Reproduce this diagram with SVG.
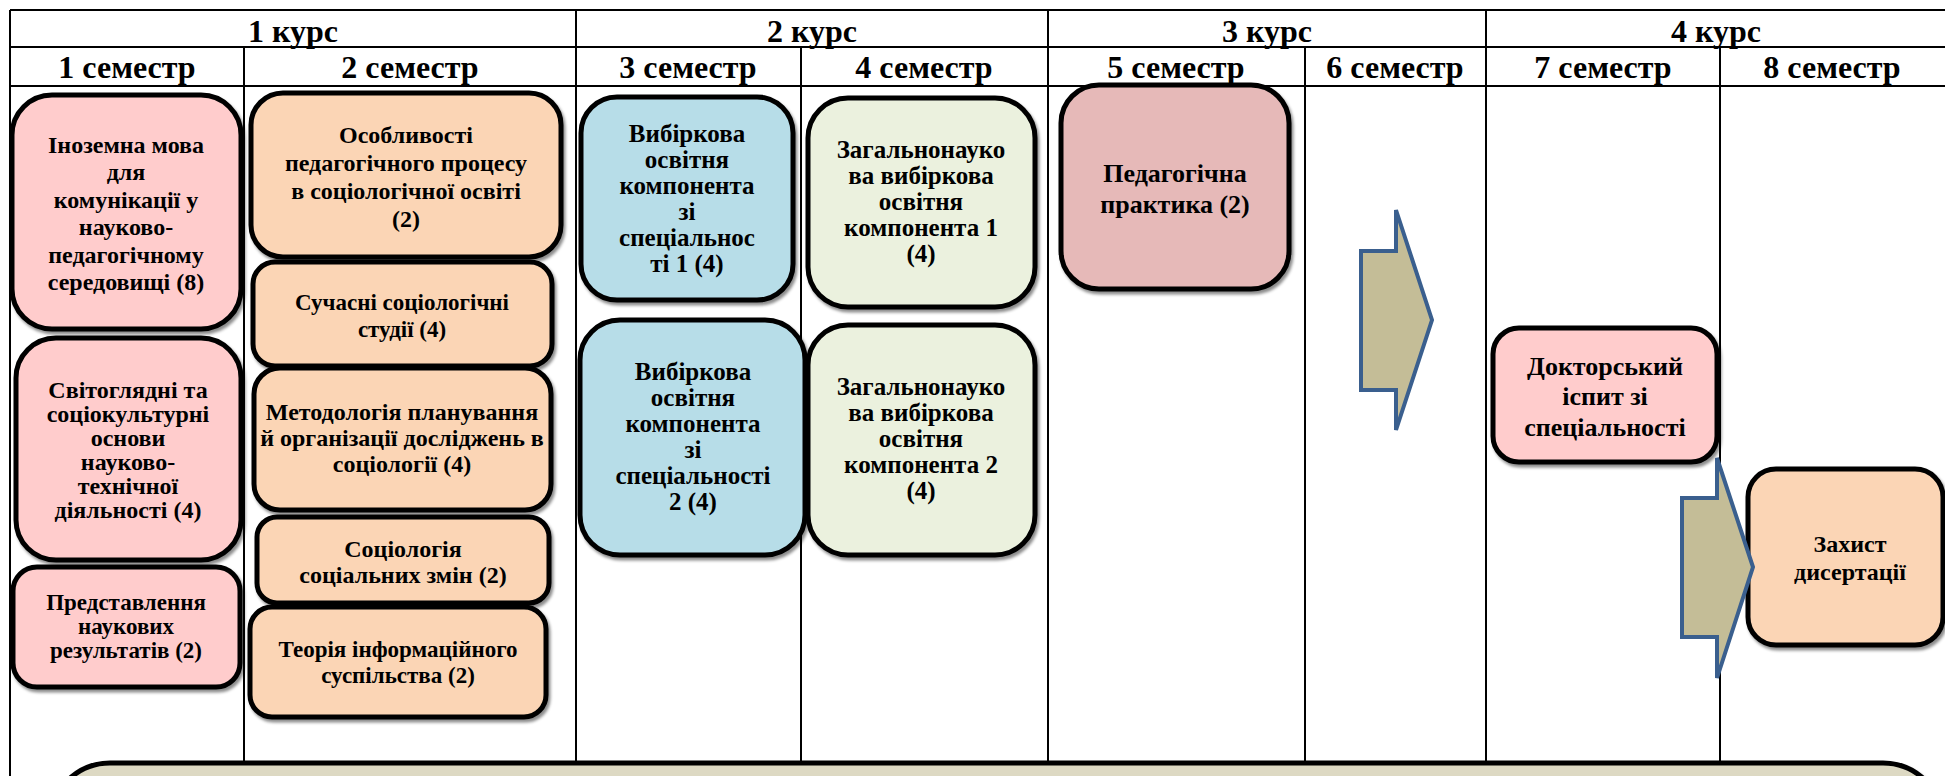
<svg xmlns="http://www.w3.org/2000/svg" width="1945" height="776" viewBox="0 0 1945 776">
<style>
.grid{stroke:#000;stroke-width:2;fill:none}
.hd{font-family:"Liberation Serif","Times New Roman",serif;font-weight:bold;font-size:32px;fill:#000;text-anchor:middle}
.nd{stroke:#000;stroke-width:5}
.t{font-family:"Liberation Serif","Times New Roman",serif;font-weight:bold;font-size:24px;fill:#000;text-anchor:middle}
.s23{font-size:23px}
.s25{font-size:25px}
.s26{font-size:26px}
.pink{fill:#FFCCCC}
.orange{fill:#FBD5B5}
.blue{fill:#B7DDE8}
.green{fill:#EBF1DE}
.rose{fill:#E6B9B8}
.arrow{fill:#C4BD97;stroke:#3A5F8E;stroke-width:4}
</style>
<defs>
<filter id="sh" x="-10%" y="-10%" width="130%" height="130%">
<feDropShadow dx="2" dy="3" stdDeviation="1.5" flood-color="#000" flood-opacity="0.45"/>
</filter>
</defs>
<rect width="1945" height="776" fill="#fff"/>
<g id="table">
<line class="grid" x1="10" y1="10" x2="1945" y2="10"/>
<line class="grid" x1="10" y1="47" x2="1945" y2="47"/>
<line class="grid" x1="10" y1="86" x2="1945" y2="86"/>
<line class="grid" x1="10" y1="10" x2="10" y2="776"/>
<line class="grid" x1="576" y1="10" x2="576" y2="762"/>
<line class="grid" x1="1048" y1="10" x2="1048" y2="762"/>
<line class="grid" x1="1486" y1="10" x2="1486" y2="762"/>
<line class="grid" x1="244" y1="47" x2="244" y2="762"/>
<line class="grid" x1="801" y1="47" x2="801" y2="762"/>
<line class="grid" x1="1305" y1="47" x2="1305" y2="762"/>
<line class="grid" x1="1720" y1="47" x2="1720" y2="762"/>
<text class="hd" x="293" y="42">1 курс</text>
<text class="hd" x="812" y="42">2 курс</text>
<text class="hd" x="1267" y="42">3 курс</text>
<text class="hd" x="1716" y="42">4 курс</text>
<text class="hd" x="127" y="78">1 семестр</text>
<text class="hd" x="410" y="78">2 семестр</text>
<text class="hd" x="688" y="78">3 семестр</text>
<text class="hd" x="924" y="78">4 семестр</text>
<text class="hd" x="1176" y="78">5 семестр</text>
<text class="hd" x="1395" y="78">6 семестр</text>
<text class="hd" x="1603" y="78">7 семестр</text>
<text class="hd" x="1832" y="78">8 семестр</text>
</g>
<g id="n1"><rect class="nd pink" filter="url(#sh)" x="12" y="95" width="229" height="234" rx="40"/>
<text class="t"><tspan x="126" y="153">Іноземна мова</tspan><tspan x="126" y="180">для</tspan><tspan x="126" y="208">комунікації у</tspan><tspan x="126" y="235">науково-</tspan><tspan x="126" y="263">педагогічному</tspan><tspan x="126" y="290">середовищі (8)</tspan></text></g>
<g id="n2"><rect class="nd pink" filter="url(#sh)" x="16" y="338" width="225" height="222" rx="40"/>
<text class="t"><tspan x="128" y="398">Світоглядні та</tspan><tspan x="128" y="422">соціокультурні</tspan><tspan x="128" y="446">основи</tspan><tspan x="128" y="470">науково-</tspan><tspan x="128" y="494">технічної</tspan><tspan x="128" y="518">діяльності (4)</tspan></text></g>
<g id="n3"><rect class="nd pink" filter="url(#sh)" x="13" y="567" width="227" height="120" rx="24"/>
<text class="t s23"><tspan x="126" y="610">Представлення</tspan><tspan x="126" y="634">наукових</tspan><tspan x="126" y="658">результатів (2)</tspan></text></g>
<g id="n4"><rect class="nd orange" filter="url(#sh)" x="251" y="93" width="310" height="164" rx="32"/>
<text class="t"><tspan x="406" y="143">Особливості</tspan><tspan x="406" y="171">педагогічного процесу</tspan><tspan x="406" y="199">в соціологічної освіті</tspan><tspan x="406" y="227">(2)</tspan></text></g>
<g id="n5"><rect class="nd orange" filter="url(#sh)" x="253" y="262" width="299" height="104" rx="22"/>
<text class="t s23"><tspan x="402" y="310">Сучасні соціологічні</tspan><tspan x="402" y="337">студії (4)</tspan></text></g>
<g id="n6"><rect class="nd orange" filter="url(#sh)" x="254" y="368" width="297" height="142" rx="26"/>
<text class="t"><tspan x="402" y="420">Методологія планування</tspan><tspan x="402" y="446">й організації досліджень в</tspan><tspan x="402" y="472">соціології (4)</tspan></text></g>
<g id="n7"><rect class="nd orange" filter="url(#sh)" x="257" y="517" width="292" height="86" rx="20"/>
<text class="t"><tspan x="403" y="557">Соціологія</tspan><tspan x="403" y="583">соціальних змін (2)</tspan></text></g>
<g id="n8"><rect class="nd orange" filter="url(#sh)" x="250" y="607" width="296" height="110" rx="22"/>
<text class="t s23"><tspan x="398" y="657">Теорія інформаційного</tspan><tspan x="398" y="683">суспільства (2)</tspan></text></g>
<g id="n9"><rect class="nd blue" filter="url(#sh)" x="581" y="97" width="212" height="203" rx="36"/>
<text class="t s25"><tspan x="687" y="142">Вибіркова</tspan><tspan x="687" y="168">освітня</tspan><tspan x="687" y="194">компонента</tspan><tspan x="687" y="220">зі</tspan><tspan x="687" y="246">спеціальнос</tspan><tspan x="687" y="272">ті 1 (4)</tspan></text></g>
<g id="n10"><rect class="nd blue" filter="url(#sh)" x="580" y="320" width="225" height="235" rx="40"/>
<text class="t s25"><tspan x="693" y="380">Вибіркова</tspan><tspan x="693" y="406">освітня</tspan><tspan x="693" y="432">компонента</tspan><tspan x="693" y="458">зі</tspan><tspan x="693" y="484">спеціальності</tspan><tspan x="693" y="510">2 (4)</tspan></text></g>
<g id="n11"><rect class="nd green" filter="url(#sh)" x="808" y="98" width="227" height="209" rx="40"/>
<text class="t s25"><tspan x="921" y="158">Загальнонауко</tspan><tspan x="921" y="184">ва вибіркова</tspan><tspan x="921" y="210">освітня</tspan><tspan x="921" y="236">компонента 1</tspan><tspan x="921" y="262">(4)</tspan></text></g>
<g id="n12"><rect class="nd green" filter="url(#sh)" x="808" y="325" width="227" height="230" rx="40"/>
<text class="t s25"><tspan x="921" y="395">Загальнонауко</tspan><tspan x="921" y="421">ва вибіркова</tspan><tspan x="921" y="447">освітня</tspan><tspan x="921" y="473">компонента 2</tspan><tspan x="921" y="499">(4)</tspan></text></g>
<g id="n13"><rect class="nd rose" filter="url(#sh)" x="1061" y="85" width="228" height="204" rx="38"/>
<text class="t s26"><tspan x="1175" y="182">Педагогічна</tspan><tspan x="1175" y="213">практика (2)</tspan></text></g>
<g id="n14"><rect class="nd pink" filter="url(#sh)" x="1493" y="328" width="224" height="134" rx="26"/>
<text class="t s26"><tspan x="1605" y="375">Докторський</tspan><tspan x="1605" y="405">іспит зі</tspan><tspan x="1605" y="436">спеціальності</tspan></text></g>
<g id="n15"><rect class="nd orange" filter="url(#sh)" x="1748" y="469" width="195" height="176" rx="28"/>
<text class="t"><tspan x="1850" y="552">Захист</tspan><tspan x="1850" y="580">дисертації</tspan></text></g>
<g id="connectors">
<polygon class="arrow" points="1361,251 1396,251 1396,210 1432,320 1396,430 1396,390 1361,390"/>
<polygon class="arrow" points="1682,498 1717,498 1717,458 1753,567 1717,678 1717,637 1682,637"/>
</g>
<g id="bottom"><rect filter="url(#sh)" x="50" y="763" width="1893" height="120" rx="60" fill="#DDD9C3" stroke="#000" stroke-width="5"/></g>
</svg>
